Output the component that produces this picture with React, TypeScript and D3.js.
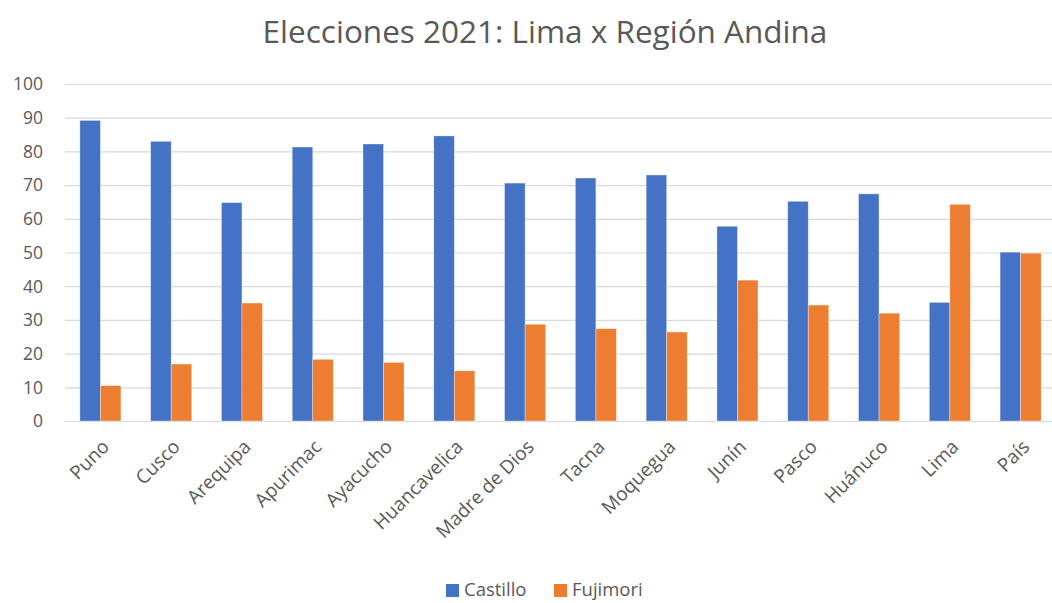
import { useEffect, useRef } from 'react';
import * as d3 from 'd3';

const categories = ['Puno', 'Cusco', 'Arequipa', 'Apurimac', 'Ayacucho', 'Huancavelica', 'Madre de Dios', 'Tacna', 'Moquegua', 'Junín', 'Pasco', 'Huánuco', 'Lima', 'País'];
const castillo = [89.2, 83.0, 64.8, 81.3, 82.2, 84.6, 70.6, 72.1, 73.0, 57.8, 65.2, 67.4, 35.2, 50.1];
const fujimori = [10.5, 16.9, 35.0, 18.3, 17.4, 14.9, 28.7, 27.4, 26.4, 41.8, 34.4, 32.0, 64.3, 49.8];
const seriesNames = ['Castillo', 'Fujimori'];
const yTicks = [0, 10, 20, 30, 40, 50, 60, 70, 80, 90, 100];

const COLORS = ['#4472c4', '#ed7d31'];
const FONT = '"Open Sans", "Liberation Sans", sans-serif';
const TXT = '#595959';
const W = 1052;
const H = 603;

export default function App() {
  const svgRef = useRef<SVGSVGElement>(null);

  useEffect(() => {
    document.body.style.margin = '0';
    if (!svgRef.current) return;
    const svg = d3.select(svgRef.current);
    svg.selectAll('*').remove();

    const M = { top: 84, right: -4, bottom: 182, left: 65 };
    const iW = W - M.left - M.right;
    const iH = H - M.top - M.bottom;

    const x0 = d3.scaleBand<string>().domain(categories).range([0, iW])
      .paddingInner(0.42).paddingOuter(0.21);
    const x1 = d3.scaleBand<string>().domain(seriesNames).range([0, x0.bandwidth()]);
    const y = d3.scaleLinear().domain([0, 100]).range([iH, 0]);

    // title
    svg.append('text')
      .attr('x', 545).attr('y', 43)
      .attr('text-anchor', 'middle')
      .attr('fill', TXT).attr('font-family', FONT).attr('font-size', 31.5)
      .text('Elecciones 2021: Lima x Región Andina');

    const root = svg.append('g').attr('transform', `translate(${M.left},${M.top})`);

    // grid
    root.append('g')
      .call(d3.axisLeft(y).tickValues(yTicks).tickSize(-iW).tickFormat(() => ''))
      .call(g => g.select('.domain').remove())
      .call(g => g.selectAll('line').attr('stroke', '#d9d9d9').attr('stroke-width', 1.2));

    // y labels
    root.append('g')
      .selectAll('text').data(yTicks).join('text')
      .attr('x', -22).attr('y', d => y(d)).attr('dy', '0.36em')
      .attr('text-anchor', 'end')
      .attr('fill', TXT).attr('font-family', FONT).attr('font-size', 17.5)
      .text(d => d);

    // bars
    const rows = categories.map((c, i) => ({ c, vals: [castillo[i], fujimori[i]] }));
    const grp = root.append('g').selectAll('g').data(rows).join('g')
      .attr('transform', d => `translate(${x0(d.c)},0)`);
    grp.selectAll('rect')
      .data(d => d.vals.map((v, k) => ({ k, v })))
      .join('rect')
      .attr('x', d => x1(seriesNames[d.k])!)
      .attr('y', d => y(d.v))
      .attr('width', x1.bandwidth())
      .attr('height', d => iH - y(d.v))
      .attr('fill', d => COLORS[d.k])
      .attr('stroke', 'rgba(255,255,255,0.5)').attr('stroke-width', 0.7);

    // x labels
    root.append('g')
      .selectAll('text').data(categories).join('text')
      .attr('transform', d => `translate(${x0(d)! + x0.bandwidth() / 2 + 10},${iH + 27}) rotate(-45)`)
      .attr('text-anchor', 'end')
      .attr('fill', TXT).attr('font-family', FONT).attr('font-size', 19)
      .text(d => d);

    // legend
    const leg = svg.append('g').attr('transform', `translate(446,590)`);
    const items = [{ name: seriesNames[0], dx: 0 }, { name: seriesNames[1], dx: 108 }];
    items.forEach((it, k) => {
      leg.append('rect').attr('x', it.dx).attr('y', -6).attr('width', 13).attr('height', 13).attr('fill', COLORS[k]);
      leg.append('text').attr('x', it.dx + 18).attr('y', 0).attr('dy', '0.35em')
        .attr('fill', TXT).attr('font-family', FONT).attr('font-size', 18.5)
        .text(it.name);
    });
  }, []);

  return <svg ref={svgRef} width={W} height={H} style={{ display: 'block', background: '#fff' }} />;
}
